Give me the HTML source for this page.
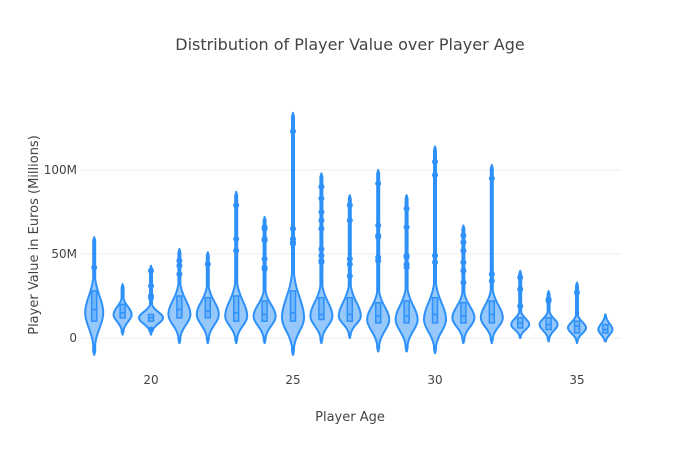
<!DOCTYPE html>
<html><head><meta charset="utf-8"><style>
body{margin:0;background:#fff;font-family:"Liberation Sans",sans-serif}
svg text{font-family:"DejaVu Sans","Liberation Sans",sans-serif;fill:#444}
</style></head><body>
<svg id="c" width="700" height="450">
<rect width="700" height="450" fill="#fff"/>
<text x="350" y="50" text-anchor="middle" font-size="16">Distribution of Player Value over Player Age</text>
<g id="grid"></g><g id="ticks"></g><g id="marks"></g>
<text x="350" y="421" text-anchor="middle" font-size="13">Player Age</text>
<text transform="translate(38,235) rotate(-90)" text-anchor="middle" font-size="13">Player Value in Euros (Millions)</text>
</svg>
<script>
const ages=[18,19,20,21,22,23,24,25,26,27,28,29,30,31,32,33,34,35,36];
const mins=[-10,2,2,-3,-3,-3,-3,-10,-3,0,-8,-8,-9,-3,-3,0,-2,-3,-2];
const maxs=[60,32,43,53,51,87,72,134,98,85,100,85,114,67,103,40,28,33,14];
const q1s=[10,12,10,12,12,10,10,10,11,10,9,9,9,9,9,6,5,3,3];
const medians=[17,15,12,17,16,15,14,15,14,14,13,13,14,13,14,9,8,7,5];
const q3s=[28,20,14,25,24,25,22,28,24,24,21,22,24,21,22,12,12,10,8];
const modes=[15,14,12,14,14,13,13,12,13,13,11,11,11,12,12,8,8,6,5];
const widths=[9,9,12,11,11,11,11,11,11,11,11,11,11,11,11,9,9,9,7];
const outliers=[[42],[],[40,31,25,24,5],[46,43,38],[44],[79,59,52],[66,65,59,58,47,42,41],[123,65,59,57,56],[90,83,75,70,65,53,49,46,45],[79,70,47,44,37],[92,67,61,60,48,46],[77,66,49,48,44,42],[105,97,49,45],[61,57,52,45,40,33],[95,38,34],[36,29,19],[23,22],[27],[]];
const yTicks=[0,50,100], yLabels=["0","50M","100M"], xTicks=[20,25,30,35];
const X=a=>151+(a-20)*28.4, Y=v=>338-v*1.68;
const NS="http://www.w3.org/2000/svg";
function mk(t,p,attrs){const e=document.createElementNS(NS,t);for(const k in attrs)e.setAttribute(k,attrs[k]);p.appendChild(e);return e;}
const grid=document.getElementById('grid'),ticks=document.getElementById('ticks'),marks=document.getElementById('marks');
yTicks.forEach((v,i)=>{const l=mk('line',grid,{x1:80,x2:620,y1:Y(v),y2:Y(v),stroke:'#eee','stroke-width':1});

const t=mk('text',ticks,{x:77,y:Y(v)+4,'text-anchor':'end','font-size':12});t.textContent=yLabels[i];
});
xTicks.forEach(a=>{const t=mk('text',ticks,{x:X(a),y:384,'text-anchor':'middle','font-size':12});t.textContent=a;
});
const C='#2e91fa';
ages.forEach((a,i)=>{
 const g=mk('g',marks,{});
 const cx=X(a),lo=mins[i],hi=maxs[i],m=modes[i],W=widths[i];
 const sL=Math.max((m-lo)/2.8,3),sH=Math.max((q3s[i]-m)*0.75,3.5);
 const pts=[];const N=100;
 for(let k=0;k<=N;k++){const v=lo+(hi-lo)*k/N;const s=v<m?sL:sH;
  let w=W*Math.exp(-0.5*((v-m)/s)**2);const edge=Math.min(v-lo,hi-v);w=Math.max(w,Math.min(1,edge*0.5));pts.push([v,w]);}
 let d='M'+cx+','+Y(lo);pts.forEach(p=>d+=' L'+(cx+p[1]).toFixed(1)+','+Y(p[0]).toFixed(1));
 for(let k=pts.length-1;k>=0;k--)d+=' L'+(cx-pts[k][1]).toFixed(1)+','+Y(pts[k][0]).toFixed(1);d+='Z';
 const p=mk('path',g,{d,fill:C,'fill-opacity':0.5,stroke:C,'stroke-width':2,'stroke-linejoin':'round'});
 
 const b=mk('rect',g,{x:cx-2.5,y:Y(q3s[i]),width:5,height:Y(q1s[i])-Y(q3s[i]),fill:C,'fill-opacity':0.35,stroke:C,'stroke-width':1.5});
 
 const md=mk('line',g,{x1:cx-2.5,x2:cx+2.5,y1:Y(medians[i]),y2:Y(medians[i]),stroke:C,'stroke-width':1.5});
 
 outliers[i].forEach(v=>{const c=mk('circle',g,{cx,cy:Y(v),r:3,fill:C});
  });
});
</script>
</body></html>
